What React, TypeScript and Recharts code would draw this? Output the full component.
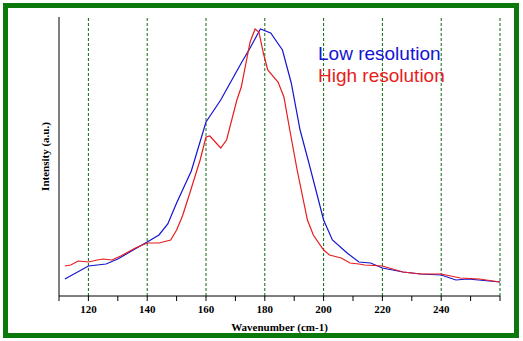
import React from 'react';
import { LineChart, Line, XAxis, YAxis, ReferenceLine, Label } from 'recharts';

const lowResWavenumber = [112, 120, 126, 130, 137, 140, 144, 147, 150, 155, 160, 165, 172, 175, 178.5, 182, 186, 189, 192, 195, 200, 203, 208, 212, 216, 220, 227, 233, 240, 245, 249, 260];
const lowResIntensity = [17, 30, 32, 37, 49, 54, 61, 72, 93, 125, 174, 196, 233, 248, 267, 263, 246, 213, 166, 133, 76, 56, 43, 34, 33, 28, 24, 22, 21, 16, 17, 14];

const highResWavenumber = [112, 114, 116.5, 120, 123, 125, 128, 131, 136, 140, 144, 148, 150, 152, 154.5, 158, 160, 161.3, 165, 167, 170.5, 172, 175, 176.7, 178, 179.5, 181, 184.5, 186.5, 188.5, 191, 194.5, 196.5, 200, 202, 206, 209, 212, 214, 220, 227, 233, 240, 246.5, 253, 260];
const highResIntensity = [30, 31, 35, 34, 36, 37, 36, 40, 48, 53, 53, 56, 66, 80, 103, 136, 159, 160, 148, 156, 196, 209, 254, 267, 264, 243, 226, 214, 199, 166, 126, 76, 61, 46, 41, 38, 33, 32, 31, 30, 24, 22, 22, 18, 17, 14];

const xTicks = [110, 120, 130, 140, 150, 160, 170, 180, 190, 200, 210, 220, 230, 240, 250, 260];
const labelledTicks = [120, 140, 160, 180, 200, 220, 240];
const gridLines = [120, 140, 160, 180, 200, 220, 240, 260];

const seriesNames = ['Low resolution', 'High resolution'];
const seriesColors = ['#1414d2', '#e81c1c'];

const lowData = lowResWavenumber.map((w, i) => ({ w, v: lowResIntensity[i] }));
const highData = highResWavenumber.map((w, i) => ({ w, v: highResIntensity[i] }));

const serif = '"Liberation Serif", "Times New Roman", serif';

export default function App() {
  return (
    <div style={{ position: 'absolute', left: 0, top: 0, width: 523, height: 341, background: '#fff' }}>
      <div style={{ position: 'absolute', left: 3, top: 3, width: 516, height: 335, border: '5px solid #0a780a', boxSizing: 'border-box' }} />
      <div style={{ position: 'absolute', left: 0, top: 0 }}>
        <LineChart width={523} height={341} margin={{ top: 17, right: 23, bottom: 0, left: 0 }}>
          <XAxis
            dataKey="w"
            type="number"
            domain={[110, 260]}
            ticks={xTicks}
            allowDataOverflow
            interval={0}
            height={45}
            tickSize={5}
            tickMargin={4}
            stroke="#000"
            tickFormatter={(t: number) => (labelledTicks.includes(t) ? String(t) : '')}
            tick={{ fontFamily: serif, fontSize: 11, fontWeight: 'bold', fill: '#000' }}
          >
            <Label value="Wavenumber (cm-1)" position="insideBottom" offset={10} style={{ fontFamily: serif, fontSize: 11, fontWeight: 'bold', fill: '#000' }} />
          </XAxis>
          <YAxis
            type="number"
            domain={[0, 279]}
            width={59}
            tick={false}
            tickLine={false}
            stroke="#000"
          >
            <Label value="Intensity (a.u.)" angle={-90} position="center" dx={16} style={{ fontFamily: serif, fontSize: 11, fontWeight: 'bold', fill: '#000', textAnchor: 'middle' }} />
          </YAxis>
          {gridLines.map((g) => (
            <ReferenceLine key={g} x={g} stroke="#0a6a0a" strokeDasharray="3 2" strokeWidth={1} />
          ))}
          <Line data={lowData} dataKey="v" name={seriesNames[0]} type="linear" stroke={seriesColors[0]} strokeWidth={1.2} dot={false} isAnimationActive={false} />
          <Line data={highData} dataKey="v" name={seriesNames[1]} type="linear" stroke={seriesColors[1]} strokeWidth={1.2} dot={false} isAnimationActive={false} />
        </LineChart>
      </div>
      <div style={{ position: 'absolute', left: 318, top: 43, fontFamily: '"Liberation Sans", Arial, sans-serif', fontSize: 19, lineHeight: '22px', whiteSpace: 'nowrap' }}>
        {seriesNames.map((n, i) => (
          <div key={n} style={{ color: seriesColors[i] }}>{n}</div>
        ))}
      </div>
    </div>
  );
}
